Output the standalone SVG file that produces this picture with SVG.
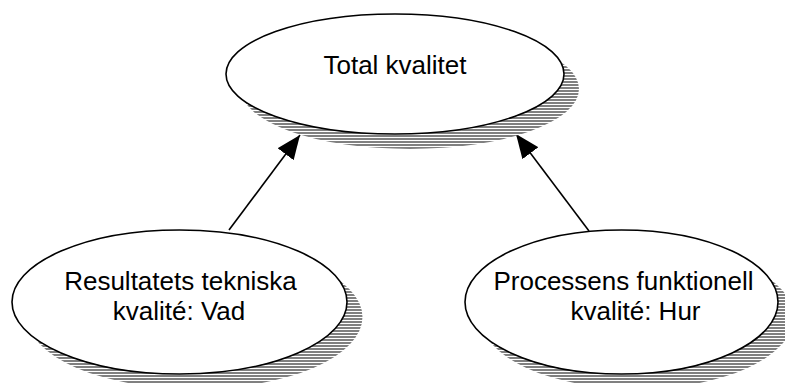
<svg xmlns="http://www.w3.org/2000/svg" width="785" height="383" viewBox="0 0 785 383">
  <style>
    .node-shape { fill: #ffffff; stroke: #000000; stroke-width: 1.6; }
    .node-shadow { fill: url(#hatch); stroke: none; }
    .label { font-family: "Liberation Sans", Arial, sans-serif; font-size: 26px; fill: #000000; text-anchor: middle; }
    .edge { stroke: #000000; stroke-width: 1.6; fill: none; marker-end: url(#arrow); }
  </style>
  <defs>
    <!-- horizontal line hatch used for the drop shadows -->
    <pattern id="hatch" patternUnits="userSpaceOnUse" x="0" y="0" width="3" height="3">
      <rect width="3" height="3" fill="#ffffff"/>
      <rect width="3" height="2" fill="#808080"/>
    </pattern>
    <marker id="arrow" markerUnits="userSpaceOnUse" markerWidth="26" markerHeight="20" refX="24" refY="10" orient="auto">
      <path d="M0,0 L24,10 L0,20 Z" fill="#000000"/>
    </marker>
  </defs>

  <rect width="785" height="383" fill="#ffffff"/>

  <g id="connectors">
    <line class="edge" x1="229" y1="230" x2="300" y2="135"/>
    <line class="edge" x1="589" y1="231" x2="516" y2="134"/>
  </g>

  <g id="total-kvalitet">
    <ellipse class="node-shadow" cx="410" cy="89" rx="169" ry="60"/>
    <ellipse class="node-shape" cx="395" cy="74" rx="169" ry="60"/>
    <text class="label" x="395" y="74">Total kvalitet</text>
  </g>

  <g id="teknisk-kvalitet">
    <ellipse class="node-shadow" cx="195" cy="317" rx="167.5" ry="72"/>
    <ellipse class="node-shape" cx="179.5" cy="302" rx="167.5" ry="72"/>
    <text class="label" x="180.5" y="290">Resultatets tekniska</text>
    <text class="label" x="179" y="320">kvalité: Vad</text>
  </g>

  <g id="funktionell-kvalitet">
    <ellipse class="node-shadow" cx="637" cy="317" rx="156.5" ry="72"/>
    <ellipse class="node-shape" cx="621.5" cy="302" rx="156.5" ry="72"/>
    <text class="label" x="623.5" y="290">Processens funktionell</text>
    <text class="label" x="635.5" y="320">kvalité: Hur</text>
  </g>
</svg>
